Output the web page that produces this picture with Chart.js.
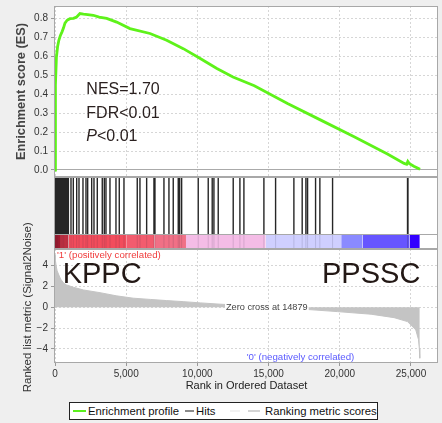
<!DOCTYPE html>
<html><head><meta charset="utf-8">
<script src="https://cdn.jsdelivr.net/npm/chart.js@4.4.0/dist/chart.umd.min.js"></script>
<style>
html,body{margin:0;padding:0;background:#efefef;}
#wrap{position:relative;width:442px;height:423px;overflow:hidden;background:#efefef;font-family:"Liberation Sans",Arial,sans-serif;}
canvas{position:absolute;left:0;}
#cA{top:0;} #cB{top:170px;} #cC{top:200px;}
#legend{position:absolute;left:69px;top:402px;width:307px;height:16px;border:1px solid #222;background:#fff;font-size:11.3px;color:#111;}
#legend span{position:absolute;top:1px;white-space:nowrap;line-height:14px;}
#legend i{position:absolute;top:7px;height:2px;}
</style></head><body>
<div id="wrap">
<canvas id="cC" width="442" height="223" style="width:442px;height:223px"></canvas>
<canvas id="cB" width="442" height="90" style="width:442px;height:90px"></canvas>
<canvas id="cA" width="442" height="178" style="width:442px;height:178px"></canvas>
<div id="legend">
<i style="left:3px;width:13px;background:#5cf01e"></i><span style="left:18px">Enrichment profile</span>
<i style="left:115px;width:9px;background:#8a8a8a"></i><span style="left:126px">Hits</span>
<i style="left:160px;width:10px;background:#f2f2f2"></i>
<i style="left:178px;width:12px;background:#d4d4d4"></i><span style="left:195px">Ranking metric scores</span>
</div>
</div>
<script>
// ---------- data ----------
const xTickValues = [0, 5000, 10000, 15000, 20000, 25000];
const esTickValues = [0, 0.1, 0.2, 0.3, 0.4, 0.5, 0.6, 0.7, 0.8];
const metricTickValues = [-4, -2, 0, 2, 4];

const esRanks  = [0, 30, 100, 180, 270, 380, 500, 600, 700, 850, 1050, 1300, 1520, 1750, 2000, 2300, 2690, 3100, 3630, 4330, 5265, 6670, 7840, 9010, 10200, 11370, 12500, 14000, 16330, 18670, 21010, 23350, 24520, 24700, 24780, 24870, 25200, 25640];
const esValues = [0, 0.45, 0.596, 0.65, 0.684, 0.71, 0.73, 0.75, 0.775, 0.79, 0.798, 0.8, 0.807, 0.825, 0.822, 0.82, 0.816, 0.806, 0.8, 0.78, 0.746, 0.72, 0.684, 0.64, 0.588, 0.535, 0.49, 0.444, 0.351, 0.263, 0.175, 0.084, 0.035, 0.03, 0.045, 0.035, 0.02, 0.004];

const hitRanks = [0, 25, 50, 80, 110, 140, 170, 200, 240, 280, 330, 380, 420, 470, 520, 560, 600, 650, 700, 760, 820, 880, 940,
  1123, 1285, 1523, 1685, 1965, 2176, 2295, 2576, 2738, 2970, 3320, 3461, 3580, 3861, 4282, 4514, 4844, 5777, 5967,
  6437, 6950, 7020, 7652, 8003, 8305, 8656, 8754, 8894, 10060, 10762, 11042, 11162, 11464, 12517, 12987,
  13268, 14672, 15493, 16778, 17361, 17621, 17740, 18301, 18603, 19495, 24760, 24790];

const heatStarts = [0, 350, 950, 5000, 7000, 9200, 14800, 20100, 21600, 24900];
const heatEnds   = [350, 950, 5000, 7000, 9200, 14800, 20100, 21600, 24900, 25620];
const heatColors = ['#c01a2e', '#dc3244', '#f24c5c', '#f25c6e', '#f07086', '#f4bce6', '#cfcfff', '#8a8aff', '#6655ff', '#3300ff'];

const metricRanks  = [0, 30, 80, 150, 270, 400, 620, 820, 1290, 2000, 3160, 4300, 5500, 6700, 7840, 9000, 10200, 11650, 12800, 14000, 14879, 16000, 17600, 19850, 22200, 23820, 24760, 25340, 25530, 25590, 25620];
const metricValues = [5.0, 4.5, 4.0, 3.5, 3.1, 2.7, 2.3, 2.14, 1.92, 1.66, 1.4, 1.1, 0.87, 0.75, 0.64, 0.54, 0.42, 0.29, 0.2, 0.1, 0.0, -0.08, -0.2, -0.42, -0.67, -1.0, -1.38, -2.18, -3.1, -4.0, -4.9];

// ---------- helpers ----------
const FAM = '"Liberation Sans", Arial, sans-serif';
const X_MIN = 0, X_MAX = 26900;
const GRID = '#d6d6d6';
function fixSize(w, h) {
  return s => {
    if (w !== null) s.width = w;
    if (h !== null) s.height = h;
    s.paddingTop = 0; s.paddingBottom = 0; s.paddingLeft = 0; s.paddingRight = 0;
  };
}
const setTicks = vals => s => { s.ticks = vals.map(v => ({ value: v })); };
const frame = {
  id: 'frame',
  beforeDraw(chart) {
    const { ctx, chartArea: a } = chart;
    ctx.save(); ctx.fillStyle = '#ffffff';
    ctx.fillRect(a.left, a.top, a.right - a.left, a.bottom - a.top); ctx.restore();
  },
  afterDraw(chart) {
    const { ctx, chartArea: a } = chart;
    ctx.save(); ctx.strokeStyle = '#a8a8a8'; ctx.lineWidth = 1;
    ctx.strokeRect(Math.round(a.left) - 0.5, Math.round(a.top) + 0.5, Math.round(a.right - a.left), Math.round(a.bottom - a.top) - 1);
    const sep = chart.options.plugins.frame && chart.options.plugins.frame.sepValue;
    if (sep !== undefined) {
      const y = Math.round(chart.scales.y.getPixelForValue(sep)) + 0.5;
      ctx.beginPath(); ctx.moveTo(a.left, y); ctx.lineTo(a.right, y); ctx.stroke();
    }
    ctx.restore();
  }
};
const common = { responsive: false, animation: false, events: [], maintainAspectRatio: false };

// ---------- top: enrichment score ----------
const esText = {
  id: 'esText',
  afterDatasetsDraw(chart) {
    const { ctx } = chart; const xs = chart.scales.x, ys = chart.scales.y;
    const x = xs.getPixelForValue(2200);
    ctx.save(); ctx.fillStyle = '#2b2120'; ctx.textBaseline = 'middle'; ctx.textAlign = 'left';
    ctx.font = '16px ' + FAM;
    ctx.fillText('NES=1.70', x, ys.getPixelForValue(0.426));
    ctx.fillText('FDR<0.01', x, ys.getPixelForValue(0.30));
    ctx.font = 'italic 16px ' + FAM;
    ctx.fillText('P', x, ys.getPixelForValue(0.174));
    const w = ctx.measureText('P').width;
    ctx.font = '16px ' + FAM;
    ctx.fillText('<0.01', x + w, ys.getPixelForValue(0.174));
    ctx.restore();
  }
};
new Chart(document.getElementById('cA'), {
  type: 'line',
  data: { datasets: [{ label: 'Enrichment profile', data: esRanks.map((r, i) => ({ x: r, y: esValues[i] })),
    borderColor: '#5ef21a', borderWidth: 2.8, pointRadius: 0, fill: false, tension: 0 }] },
  options: Object.assign({}, common, {
    layout: { padding: { left: 0, right: 4, top: 6, bottom: 1 } },
    plugins: { legend: { display: false }, tooltip: { enabled: false } },
    scales: {
      x: { type: 'linear', min: X_MIN, max: X_MAX, afterBuildTicks: setTicks(xTickValues),
        ticks: { display: false }, grid: { color: GRID, drawTicks: false },
        border: { display: false, dash: [2, 2] }, afterFit: fixSize(null, 0) },
      y: { type: 'linear', min: -0.037, max: 0.865, afterBuildTicks: setTicks(esTickValues),
        ticks: { callback: v => v.toFixed(1), font: { size: 10, family: FAM }, color: '#333', padding: 3, autoSkip: false },
        grid: { color: c => (c.tick && c.tick.value === 0) ? '#aaaaaa' : GRID, tickLength: 4, tickColor: '#999' },
        border: { display: false, dash: c => (c.tick && c.tick.value === 0) ? [] : [2, 2] },
        title: { display: true, text: 'Enrichment score (ES)', font: { size: 12.8, weight: 'bold', family: FAM }, color: '#444', padding: { top: 14, bottom: 0 } },
        afterFit: fixSize(55, null) }
    }
  }),
  plugins: [frame, esText]
});

// ---------- middle: hits + heat bar ----------
const hitLines = [], hitShadow = [];
hitRanks.forEach(r => {
  hitLines.push({ x: r, y: 15 }, { x: r, y: 71 }, { x: r, y: null });
  hitShadow.push({ x: r, y: 0 }, { x: r, y: 15 }, { x: r, y: null });
});
const heatSets = heatStarts.map((s, i) => ({
  label: 'heat' + i, data: [{ x: s, y: 15 }, { x: heatEnds[i], y: 15 }],
  borderWidth: 0, borderColor: heatColors[i], backgroundColor: heatColors[i], pointRadius: 0, fill: { value: 0 }, tension: 0
}));
new Chart(document.getElementById('cB'), {
  type: 'line',
  data: { datasets: [
    { label: 'Hits', data: hitLines, borderColor: '#262626', borderWidth: 1.4, pointRadius: 0, spanGaps: false, fill: false },
    { label: 'hitShadow', data: hitShadow, borderColor: 'rgba(40,40,60,0.15)', borderWidth: 1, pointRadius: 0, spanGaps: false, fill: false }
  ].concat(heatSets) },
  options: Object.assign({}, common, {
    layout: { padding: { left: 55, right: 4, top: 7, bottom: 11 } },
    plugins: { legend: { display: false }, tooltip: { enabled: false }, frame: { sepValue: 15 } },
    scales: {
      x: { type: 'linear', min: X_MIN, max: X_MAX, display: false },
      y: { type: 'linear', min: 0, max: 72, display: false }
    }
  }),
  plugins: [frame]
});

// ---------- bottom: ranked list metric ----------
const metricText = {
  id: 'metricText',
  afterDatasetsDraw(chart) {
    const { ctx, chartArea: a } = chart; const xs = chart.scales.x, ys = chart.scales.y;
    ctx.save();
    ctx.textBaseline = 'middle';
    const zx = xs.getPixelForValue(14879), zy = ys.getPixelForValue(0);
    ctx.font = '9.2px ' + FAM;
    const zt = 'Zero cross at 14879';
    const zw = ctx.measureText(zt).width;
    ctx.fillStyle = '#ffffff'; ctx.fillRect(zx - zw / 2 - 1, zy - 5, zw + 2, 10);
    ctx.fillStyle = '#444'; ctx.textAlign = 'center'; ctx.fillText(zt, zx, zy);
    ctx.font = '29px ' + FAM; ctx.fillStyle = '#231815';
    ctx.textAlign = 'left'; ctx.fillText('KPPC', xs.getPixelForValue(540), ys.getPixelForValue(3.1));
    ctx.textAlign = 'right'; ctx.fillText('PPSSC', xs.getPixelForValue(25660), ys.getPixelForValue(3.1));
    ctx.font = '9.7px ' + FAM;
    ctx.textAlign = 'left'; ctx.fillStyle = '#f03c3c';
    ctx.fillText("'1' (positively correlated)", a.left + 2, a.top + 6);
    ctx.textAlign = 'center'; ctx.fillStyle = '#5a5aff';
    ctx.fillText("'0' (negatively correlated)", 300.5, a.bottom - 6);
    ctx.save();
    ctx.translate(28, zy); ctx.rotate(-Math.PI / 2);
    ctx.font = '11.5px ' + FAM; ctx.fillStyle = '#333'; ctx.textAlign = 'center';
    ctx.fillText('Ranked list metric (Signal2Noise)', 0, 0);
    ctx.restore();
    ctx.restore();
  }
};
new Chart(document.getElementById('cC'), {
  type: 'line',
  data: { datasets: [{ label: 'Ranking metric scores', data: metricRanks.map((r, i) => ({ x: r, y: metricValues[i] })),
    borderColor: '#c4c4c4', backgroundColor: '#c4c4c4', borderWidth: 1, pointRadius: 0, fill: 'origin', tension: 0 }] },
  options: Object.assign({}, common, {
    layout: { padding: { left: 0, right: 4, top: 49, bottom: 30 } },
    plugins: { legend: { display: false }, tooltip: { enabled: false } },
    scales: {
      x: { type: 'linear', min: X_MIN, max: X_MAX, afterBuildTicks: setTicks(xTickValues),
        ticks: { callback: v => v.toLocaleString('en-US'), font: { size: 10, family: FAM }, color: '#333', padding: 2, autoSkip: false, maxRotation: 0 },
        grid: { color: GRID, tickLength: 3, tickColor: '#999' }, border: { display: false, dash: [2, 2] },
        title: { display: true, text: 'Rank in Ordered Dataset', font: { size: 11, family: FAM }, color: '#222', padding: { top: 0, bottom: 0 } },
        afterFit: fixSize(null, 30) },
      y: { type: 'linear', min: -5.36, max: 5.6, afterBuildTicks: setTicks(metricTickValues),
        ticks: { callback: v => v < 0 ? '\u2212' + Math.abs(v) : String(v), font: { size: 10, family: FAM }, color: '#333', padding: 3, autoSkip: false },
        grid: { color: GRID, tickLength: 4, tickColor: '#999' }, border: { display: false, dash: [2, 2] },
        afterFit: fixSize(55, null) }
    }
  }),
  plugins: [frame, metricText]
});
</script>
</body></html>
